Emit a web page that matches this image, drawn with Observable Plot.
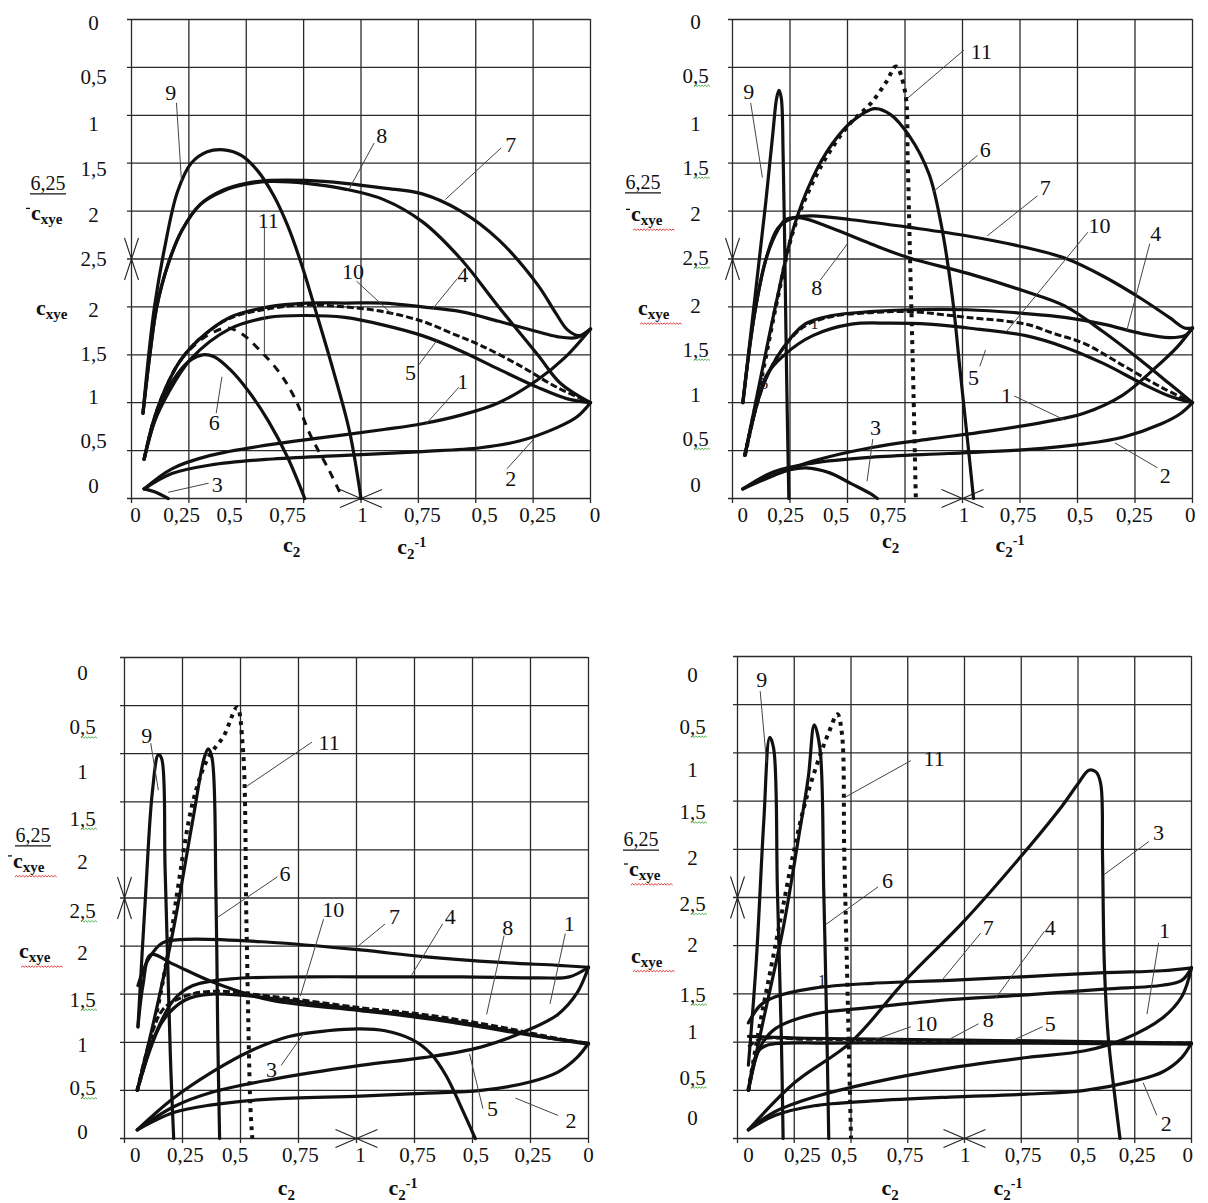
<!DOCTYPE html>
<html><head><meta charset="utf-8">
<script src="https://cdn.jsdelivr.net/npm/d3@7"></script>
<script src="https://cdn.jsdelivr.net/npm/@observablehq/plot@0.6"></script>
<style>
html,body{margin:0;padding:0;background:#fff;}
#chart{position:relative;width:1208px;height:1203px;overflow:hidden;background:#fff;}
#chart svg{position:absolute;overflow:visible;}
</style></head>
<body><div id="chart"></div>
<script>
// ---------- ticks ----------
const X_TICKS = [0, 0.25, 0.5, 0.75, 1, 1.25, 1.5, 1.75, 2];
const X_TICK_LABELS = ["0","0,25","0,5","0,75","1","0,75","0,5","0,25","0"];
const Y_TICKS = [0, 0.5, 1, 1.5, 2, 2.5, 3, 3.5, 4, 4.5, 5];
const Y_TICK_LABELS = ["0","0,5","1","1,5","2","2,5","2","1,5","1","0,5","0"];
const CURVE_NAMES = ["1","2","3","4","5","6","7","8","9","10","11"];

// ---------- panel A (top left): [u, v] ----------
const A_1 = [[0.055,0.10],[0.176,0.31],[0.344,0.45],[0.596,0.56],[0.847,0.64],[1.099,0.72],[1.267,0.78],[1.435,0.87],[1.6,1.0],[1.77,1.24],[1.888,1.47],[2,1.77]];
const A_2 = [[0.055,0.10],[0.176,0.26],[0.344,0.35],[0.596,0.41],[0.93,0.45],[1.267,0.49],[1.52,0.53],[1.69,0.6],[1.854,0.74],[1.94,0.85],[2,1.0]];
const A_3 = [[0.055,0.10],[0.1,0.07],[0.16,0]];
const A_4 = [[0.055,0.41],[0.092,0.78],[0.143,1.12],[0.21,1.43],[0.294,1.66],[0.428,1.89],[0.596,2.0],[0.763,2.04],[0.93,2.04],[1.099,2.04],[1.267,2.0],[1.435,1.95],[1.6,1.85],[1.77,1.74],[1.854,1.69],[1.94,1.68],[2,1.77]];
const A_5 = [[0.055,0.41],[0.1,0.8],[0.16,1.1],[0.26,1.46],[0.428,1.77],[0.596,1.89],[0.763,1.91],[0.93,1.89],[1.099,1.81],[1.267,1.70],[1.435,1.54],[1.6,1.35],[1.77,1.16],[1.9,1.04],[2,1.0]];
const A_6 = [[0.055,0.41],[0.12,0.95],[0.2,1.3],[0.26,1.45],[0.31,1.5],[0.36,1.48],[0.428,1.35],[0.51,1.12],[0.596,0.81],[0.68,0.43],[0.755,0]];
const A_7 = [[0.05,0.89],[0.08,1.5],[0.11,2.0],[0.16,2.45],[0.22,2.8],[0.3,3.07],[0.4,3.22],[0.5,3.29],[0.6,3.32],[0.763,3.32],[0.93,3.29],[1.1,3.24],[1.267,3.18],[1.435,3.0],[1.6,2.7],[1.77,2.23],[1.85,1.93],[1.9,1.76],[1.95,1.7],[2,1.77]];
const A_8 = [[0.05,0.89],[0.08,1.5],[0.11,2.0],[0.16,2.45],[0.22,2.8],[0.3,3.07],[0.4,3.21],[0.5,3.28],[0.6,3.31],[0.763,3.29],[0.93,3.23],[1.099,3.12],[1.267,2.89],[1.435,2.5],[1.6,2.0],[1.77,1.5],[1.87,1.2],[2,1.0]];
const A_9 = [[0.05,0.89],[0.075,1.5],[0.1,2.0],[0.143,2.6],[0.2,3.2],[0.26,3.5],[0.33,3.62],[0.403,3.64],[0.48,3.58],[0.55,3.42],[0.62,3.16],[0.68,2.85],[0.74,2.45],[0.81,1.9],[0.88,1.33],[0.95,0.7],[1.0,0]];
const A_10 = [[0.055,0.41],[0.092,0.78],[0.143,1.12],[0.21,1.43],[0.294,1.66],[0.428,1.88],[0.596,1.98],[0.763,2.02],[0.93,2.0],[1.099,1.95],[1.267,1.85],[1.4,1.72],[1.52,1.6],[1.69,1.39],[1.854,1.16],[2,1.0]];
const A_11 = [[0.055,0.41],[0.092,0.78],[0.143,1.12],[0.21,1.43],[0.294,1.64],[0.36,1.74],[0.42,1.78],[0.48,1.72],[0.562,1.54],[0.646,1.31],[0.713,1.04],[0.78,0.66],[0.864,0.28],[0.92,0]];

// ---------- panel B (top right) ----------
const B_1 = [[0.045,0.1],[0.18,0.24],[0.349,0.39],[0.6,0.53],[0.854,0.62],[1.107,0.7],[1.36,0.8],[1.528,0.89],[1.697,1.08],[1.832,1.35],[1.933,1.58],[2,1.78]];
const B_2 = [[0.045,0.1],[0.18,0.28],[0.349,0.37],[0.6,0.43],[0.938,0.47],[1.275,0.51],[1.528,0.57],[1.697,0.64],[1.865,0.78],[1.95,0.89],[2,1.0]];
const B_3 = [[0.045,0.1],[0.15,0.22],[0.25,0.3],[0.32,0.32],[0.42,0.27],[0.52,0.15],[0.6,0.05],[0.63,0]];
const B_4 = [[0.054,0.45],[0.13,1.16],[0.214,1.55],[0.315,1.82],[0.433,1.91],[0.6,1.95],[0.77,1.97],[1.023,1.97],[1.275,1.93],[1.444,1.89],[1.612,1.82],[1.781,1.72],[1.899,1.68],[1.966,1.7],[2,1.78]];
const B_5 = [[0.054,0.45],[0.147,1.28],[0.231,1.51],[0.349,1.7],[0.517,1.82],[0.686,1.83],[0.854,1.82],[1.023,1.78],[1.275,1.70],[1.444,1.58],[1.612,1.41],[1.781,1.2],[1.899,1.07],[2,1.0]];
const B_6 = [[0.054,0.45],[0.13,1.35],[0.197,2.12],[0.265,2.82],[0.349,3.35],[0.433,3.7],[0.517,3.93],[0.618,4.07],[0.686,4.01],[0.77,3.78],[0.854,3.39],[0.905,2.89],[0.955,2.12],[0.989,1.35],[1.023,0.58],[1.048,0]];
const B_7 = [[0.045,1.0],[0.096,1.93],[0.147,2.51],[0.197,2.82],[0.265,2.93],[0.349,2.95],[0.517,2.91],[0.77,2.83],[1.023,2.74],[1.275,2.62],[1.444,2.51],[1.612,2.32],[1.781,2.08],[1.899,1.89],[1.966,1.78],[2,1.78]];
const B_8 = [[0.045,1.0],[0.096,1.93],[0.147,2.51],[0.197,2.8],[0.231,2.91],[0.298,2.93],[0.433,2.82],[0.6,2.66],[0.77,2.51],[1.023,2.35],[1.275,2.16],[1.444,2.01],[1.612,1.74],[1.781,1.43],[1.899,1.2],[2,1.0]];
const B_9 = [[0.045,1.0],[0.1,2.15],[0.145,3.1],[0.175,3.8],[0.192,4.18],[0.202,4.26],[0.212,4.18],[0.22,3.6],[0.226,2.8],[0.232,1.8],[0.238,0.9],[0.245,0]];
const B_10 = [[0.054,0.45],[0.13,1.16],[0.214,1.55],[0.315,1.8],[0.433,1.9],[0.6,1.94],[0.77,1.95],[1.023,1.89],[1.275,1.82],[1.4,1.72],[1.528,1.62],[1.697,1.39],[1.865,1.16],[2,1.0]];
const B_11 = [[0.054,0.45],[0.13,1.3],[0.197,2.1],[0.265,2.8],[0.349,3.3],[0.433,3.66],[0.517,3.93],[0.6,4.12],[0.669,4.35],[0.711,4.51],[0.75,4.25],[0.762,3.5],[0.772,2.5],[0.785,1.3],[0.797,0]];

// ---------- panel C (bottom left) ----------
const C_1 = [[0.055,0.09],[0.212,0.33],[0.377,0.48],[0.626,0.61],[1.017,0.76],[1.288,0.84],[1.536,0.95],[1.752,1.14],[1.868,1.29],[1.95,1.51],[2,1.78]];
const C_2 = [[0.055,0.09],[0.212,0.27],[0.377,0.35],[0.626,0.41],[1.017,0.44],[1.288,0.47],[1.536,0.5],[1.752,0.59],[1.868,0.69],[1.95,0.84],[2,0.99]];
const C_3 = [[0.055,0.09],[0.212,0.42],[0.377,0.69],[0.543,0.91],[0.709,1.06],[0.874,1.12],[1.017,1.14],[1.123,1.12],[1.238,1.03],[1.321,0.88],[1.387,0.65],[1.454,0.31],[1.512,0]];
const C_4 = [[0.055,0.5],[0.129,1.06],[0.212,1.44],[0.295,1.59],[0.46,1.66],[0.791,1.68],[1.12,1.68],[1.454,1.68],[1.785,1.67],[1.917,1.68],[2,1.78]];
const C_5 = [[0.055,0.5],[0.162,1.21],[0.262,1.44],[0.377,1.5],[0.626,1.46],[1.017,1.34],[1.288,1.27],[1.62,1.14],[1.868,1.03],[2,0.98]];
const C_6 = [[0.055,0.5],[0.129,1.25],[0.212,2.19],[0.295,3.32],[0.344,3.96],[0.361,4.05],[0.377,3.96],[0.394,2.57],[0.402,1.06],[0.41,0]];
const C_7 = [[0.058,1.59],[0.1,1.85],[0.162,2.03],[0.262,2.07],[0.626,2.04],[1.017,1.96],[1.288,1.89],[1.62,1.83],[1.868,1.8],[2,1.78]];
const C_8 = [[0.058,1.16],[0.08,1.6],[0.113,1.91],[0.212,1.81],[0.377,1.63],[0.626,1.44],[1.017,1.33],[1.288,1.25],[1.536,1.16],[1.785,1.06],[2,0.99]];
const C_9 = [[0.058,1.16],[0.09,2.5],[0.12,3.6],[0.146,3.99],[0.16,3.95],[0.175,2.8],[0.19,1.5],[0.2,0.7],[0.212,0]];
const C_10 = [[0.055,0.5],[0.162,1.33],[0.262,1.48],[0.377,1.53],[0.626,1.48],[1.017,1.36],[1.288,1.29],[1.62,1.16],[1.868,1.04],[2,0.99]];
const C_11 = [[0.055,0.5],[0.129,1.2],[0.2,2.1],[0.228,2.57],[0.295,3.5],[0.361,3.96],[0.427,4.18],[0.485,4.48],[0.51,4.07],[0.526,2.19],[0.543,0.31],[0.551,0]];

// ---------- panel D (bottom right) ----------
const D_1 = [[0.048,0.09],[0.167,0.28],[0.338,0.43],[0.593,0.58],[0.934,0.73],[1.275,0.84],[1.531,0.91],[1.702,1.03],[1.872,1.25],[1.957,1.47],[2,1.77]];
const D_2 = [[0.048,0.09],[0.167,0.24],[0.338,0.34],[0.593,0.39],[0.934,0.43],[1.275,0.46],[1.531,0.5],[1.753,0.6],[1.872,0.69],[1.957,0.84],[2,0.99]];
const D_3 = [[0.048,0.09],[0.252,0.58],[0.5,1.0],[0.74,1.64],[1.0,2.26],[1.25,2.93],[1.43,3.45],[1.5,3.68],[1.548,3.82],[1.58,3.8],[1.6,3.68],[1.608,2.93],[1.616,1.81],[1.633,1.06],[1.659,0.5],[1.685,0]];
const D_4 = [[0.048,0.5],[0.1,0.95],[0.167,1.14],[0.338,1.29],[0.593,1.36],[0.934,1.44],[1.275,1.49],[1.616,1.55],[1.872,1.59],[1.957,1.64],[2,1.77]];
const D_5 = [[0.048,0.5],[0.09,0.9],[0.133,0.97],[0.4,0.99],[0.8,0.99],[1.2,0.99],[1.6,0.985],[2,0.98]];
const D_6 = [[0.048,0.5],[0.116,1.25],[0.201,2.18],[0.269,3.12],[0.312,3.75],[0.338,4.29],[0.363,4.05],[0.38,2.56],[0.394,1.06],[0.402,0]];
const D_7 = [[0.048,1.2],[0.1,1.38],[0.167,1.47],[0.338,1.56],[0.593,1.61],[0.934,1.64],[1.275,1.68],[1.616,1.72],[1.872,1.74],[2,1.77]];
const D_8 = [[0.048,1.06],[0.3,1.04],[0.6,1.03],[1.0,1.02],[1.4,1.01],[1.7,1.0],[2,0.99]];
const D_9 = [[0.048,0.76],[0.082,1.81],[0.116,3.3],[0.142,4.16],[0.159,4.05],[0.176,2.56],[0.193,1.06],[0.201,0]];
const D_10 = [[0.048,0.95],[0.1,1.03],[0.3,1.03],[0.7,1.02],[1.1,1.01],[1.5,1.0],[2,0.99]];
const D_11 = [[0.048,0.5],[0.1,1.2],[0.15,1.8],[0.2,2.4],[0.25,3.0],[0.3,3.5],[0.36,3.95],[0.4,4.2],[0.44,4.4],[0.46,4.2],[0.47,3.0],[0.48,2.0],[0.49,1.0],[0.5,0]];

// ---------- curve number labels: [text, u, v] and leader lines [u1, v1, u2, v2] ----------
const A_LABELS = [["9",0.171,4.23],["8",1.09,3.78],["7",1.653,3.69],["11",0.596,2.9],["10",0.965,2.37],["4",1.443,2.33],["5",1.216,1.31],["6",0.361,0.79],["1",1.443,1.22],["2",1.653,0.2],["3",0.374,0.14]];
const A_LEADERS = [[0.196,4.13,0.218,3.31],[1.057,3.71,0.948,3.23],[1.611,3.66,1.367,3.12],[0.579,2.83,0.579,1.52],[0.98,2.27,1.133,1.93],[1.418,2.29,1.309,1.97],[1.25,1.39,1.334,1.66],[0.369,0.89,0.394,1.27],[1.426,1.16,1.284,0.78],[1.636,0.31,1.753,0.62],[0.336,0.16,0.16,0.065]];
const B_LABELS = [["11",1.082,4.66],["9",0.071,4.24],["6",1.099,3.64],["7",1.36,3.24],["10",1.596,2.85],["4",1.84,2.76],["8",0.366,2.2],["5",1.048,1.26],["1",1.191,1.07],["2",1.882,0.24],["3",0.622,0.74]];
const B_LEADERS = [[1.006,4.68,0.762,4.18],[0.079,4.13,0.13,3.35],[1.065,3.58,0.871,3.2],[1.326,3.16,1.107,2.74],[1.545,2.78,1.19,1.74],[1.814,2.66,1.713,1.74],[0.382,2.28,0.5,2.66],[1.075,1.38,1.1,1.55],[1.225,1.07,1.444,0.82],[1.848,0.32,1.663,0.58],[0.61,0.62,0.585,0.18]];
const C_LABELS = [["9",0.096,4.18],["11",0.882,4.11],["6",0.692,2.75],["10",0.9,2.38],["7",1.164,2.3],["4",1.404,2.3],["8",1.652,2.19],["1",1.917,2.23],["3",0.634,0.71],["5",1.586,0.31],["2",1.925,0.18]];
const C_LEADERS = [[0.113,4.11,0.146,3.62],[0.808,4.12,0.526,3.66],[0.659,2.72,0.402,2.3],[0.858,2.28,0.758,1.48],[1.123,2.23,1.007,2.0],[1.371,2.23,1.238,1.70],[1.636,2.11,1.561,1.29],[1.9,2.13,1.834,1.40],[0.675,0.76,0.775,1.1],[1.545,0.31,1.487,0.88],[1.868,0.24,1.685,0.42]];
const D_LABELS = [["9",0.107,4.76],["11",0.866,3.94],["3",1.855,3.17],["6",0.661,2.67],["7",1.105,2.18],["4",1.378,2.18],["1",1.881,2.15],["10",0.832,1.19],["8",1.105,1.23],["5",1.378,1.19],["2",1.889,0.15]];
const D_LEADERS = [[0.1,4.64,0.128,3.9],[0.764,3.92,0.474,3.54],[1.812,3.08,1.616,2.74],[0.619,2.61,0.389,2.22],[1.071,2.13,0.9,1.64],[1.352,2.15,1.139,1.46],[1.855,2.03,1.804,1.29],[0.764,1.16,0.61,1.03],[1.062,1.19,0.934,1.03],[1.344,1.16,1.224,1.03],[1.847,0.24,1.787,0.58]];
const B_SMALL = [["5",0.138,1.2],["1",0.357,1.82]];
const D_SMALL = [["1",0.372,1.64]];

// ---------- layout ----------
const FONT = "'Liberation Serif','Times New Roman',Times,serif";
const PANELS = [
  {curves:[A_1,A_2,A_3,A_4,A_5,A_6,A_7,A_8,A_9,A_10,A_11], labels:A_LABELS, leaders:A_LEADERS, small:[],
   left:0, top:0, width:604, height:575, mL:131, mR:14, mT:19, mB:77, yDx:-38, squig:false,
   dash11:"8,7", w11:3,
   xLabelU:[0.017,0.218,0.428,0.68,1.007,1.267,1.539,1.77,2.02],
   yLabelV:[0.13,0.60,1.06,1.51,1.97,2.50,2.96,3.44,3.91,4.40,4.96],
   c2U:0.70, c2invU:1.16, cDy:54, cInvDy:56, fracDx:83, fracV:3.29, cxUpDx:100, cxUpV:2.96, cxLoDx:95, cxLoV:1.97},
  {curves:[B_1,B_2,B_3,B_4,B_5,B_6,B_7,B_8,B_9,B_10,B_11], labels:B_LABELS, leaders:B_LEADERS, small:B_SMALL,
   left:604, top:0, width:604, height:575, mL:128, mR:16, mT:19, mB:77, yDx:-37, squig:true,
   dash11:"4,5", w11:4,
   xLabelU:[0.045,0.231,0.45,0.677,1.006,1.242,1.511,1.747,1.99],
   yLabelV:[0.14,0.62,1.08,1.55,2.01,2.51,2.97,3.45,3.91,4.41,4.97],
   c2U:0.69, c2invU:1.146, cDy:50, cInvDy:54, fracDx:89, fracV:3.3, cxUpDx:101, cxUpV:2.95, cxLoDx:94, cxLoV:1.97},
  {curves:[C_1,C_2,C_3,C_4,C_5,C_6,C_7,C_8,C_9,C_10,C_11], labels:C_LABELS, leaders:C_LEADERS, small:[],
   left:0, top:620, width:604, height:583, mL:124, mR:16, mT:37, mB:65, yDx:-42, squig:true,
   dash11:"4,5", w11:4,
   xLabelU:[0.046,0.262,0.477,0.758,1.017,1.263,1.515,1.76,2.0],
   yLabelV:[0.07,0.52,0.97,1.44,1.93,2.36,2.87,3.32,3.81,4.27,4.84],
   c2U:0.70, c2invU:1.14, cDy:57, cInvDy:57, fracDx:91, fracV:3.15, cxUpDx:111, cxUpV:2.87, cxLoDx:105, cxLoV:1.93},
  {curves:[D_1,D_2,D_3,D_4,D_5,D_6,D_7,D_8,D_9,D_10,D_11], labels:D_LABELS, leaders:D_LEADERS, small:D_SMALL,
   left:604, top:620, width:604, height:583, mL:133, mR:17, mT:36, mB:65, yDx:-45, squig:true,
   dash11:"4,5", w11:4,
   xLabelU:[0.048,0.286,0.47,0.738,1.003,1.258,1.523,1.761,1.983],
   yLabelV:[0.21,0.63,1.1,1.49,2.0,2.43,2.91,3.38,3.82,4.27,4.81],
   c2U:0.675, c2invU:1.13, cDy:57, cInvDy:57, fracDx:96, fracV:3.1, cxUpDx:108, cxUpV:2.78, cxLoDx:106, cxLoV:1.88}
];

function squiggle(g, x0, x1, y, color) {
  let d = `M${x0},${y}`;
  let up = true;
  for (let x = x0 + 1.6; x <= x1; x += 1.6) { d += `L${x.toFixed(1)},${(y + (up ? -1.4 : 0)).toFixed(1)}`; up = !up; }
  g.append("path").attr("d", d).attr("fill", "none").attr("stroke", color).attr("stroke-width", 0.9);
}

function richText(g, x, y, parts, anchor) {
  const t = g.append("text").attr("x", x).attr("y", y).attr("text-anchor", anchor || "start")
    .attr("font-family", FONT).attr("fill", "#111");
  parts.forEach(p => {
    const s = t.append("tspan").text(p.t).attr("font-size", p.size);
    if (p.bold) s.attr("font-weight", "bold");
    if (p.dy) s.attr("dy", p.dy);
  });
  return t;
}

function buildPanel(p) {
  const fw = p.width - p.mL - p.mR, fh = p.height - p.mT - p.mB;
  const px = u => p.mL + u / 2 * fw;
  const py = v => p.mT + (5 - v) / 5 * fh;
  const rows = [];
  p.curves.forEach((arr, k) => arr.forEach(([u, v]) => rows.push({id: CURVE_NAMES[k], u, v})));
  const solid = rows.filter(r => r.id !== "10" && r.id !== "11");
  const r10 = rows.filter(r => r.id === "10");
  const r11 = rows.filter(r => r.id === "11");
  const xlab = X_TICK_LABELS.map((t, i) => ({t, u: p.xLabelU[i]}));
  const ylab = Y_TICK_LABELS.map((t, i) => ({t, v: p.yLabelV[i]}));
  const labels = p.labels.map(([t, u, v]) => ({t, u, v}));
  const small = p.small.map(([t, u, v]) => ({t, u, v}));
  const leaders = p.leaders.map(([u1, v1, u2, v2]) => ({u1, v1, u2, v2}));
  const cu = 7 / (fw / 2), cv = 21 / (fh / 5);
  const bu = 21 / (fw / 2), bv = 9 / (fh / 5);
  const crosses = [
    {u1: -cu, v1: 2.5 + cv, u2: cu, v2: 2.5 - cv}, {u1: -cu, v1: 2.5 - cv, u2: cu, v2: 2.5 + cv},
    {u1: 1 - bu, v1: bv, u2: 1 + bu, v2: -bv}, {u1: 1 - bu, v1: -bv, u2: 1 + bu, v2: bv}
  ];
  const tick = 5 / (fh / 5), tickx = 4 / (fw / 2);
  const svg = Plot.plot({
    width: p.width, height: p.height,
    marginLeft: p.mL, marginRight: p.mR, marginTop: p.mT, marginBottom: p.mB,
    x: {domain: [0, 2], axis: null},
    y: {domain: [0, 5], axis: null},
    style: {fontFamily: FONT, background: "transparent", color: "#111", overflow: "visible"},
    marks: [
      Plot.ruleX(X_TICKS, {x: d => d, y1: -tick, y2: 5, stroke: "#2a2a2a", strokeWidth: 1.3}),
      Plot.ruleY(Y_TICKS, {y: d => d, x1: -tickx, x2: 2, stroke: "#2a2a2a", strokeWidth: 1.3}),
      Plot.text(xlab, {x: "u", y: () => 0, text: "t", dy: 17, fontSize: 21, fill: "#111"}),
      Plot.text(ylab, {x: () => 0, y: "v", text: "t", dx: p.yDx, fontSize: 21, fill: "#111", textAnchor: "middle"}),
      Plot.link(crosses, {x1: "u1", y1: "v1", x2: "u2", y2: "v2", stroke: "#222", strokeWidth: 1.1}),
      Plot.line(solid, {x: "u", y: "v", z: "id", curve: "catmull-rom", stroke: "#111", strokeWidth: 3.2}),
      Plot.line(r10, {x: "u", y: "v", curve: "catmull-rom", stroke: "#111", strokeWidth: 3, strokeDasharray: "7,3", strokeLinecap: "butt"}),
      Plot.line(r11, {x: "u", y: "v", curve: "catmull-rom", stroke: "#111", strokeWidth: p.w11, strokeDasharray: p.dash11, strokeLinecap: "butt"}),
      Plot.link(leaders, {x1: "u1", y1: "v1", x2: "u2", y2: "v2", stroke: "#444", strokeWidth: 1}),
      Plot.text(labels, {x: "u", y: "v", text: "t", fontSize: 22, fill: "#111"}),
      Plot.text(small, {x: "u", y: "v", text: "t", fontSize: 16, fill: "#222"})
    ]
  });
  svg.style.left = p.left + "px";
  svg.style.top = p.top + "px";
  svg.style.maxWidth = "none";
  const g = d3.select(svg).append("g");
  const bottom = p.mT + fh;
  // axis titles
  richText(g, px(p.c2U), bottom + p.cDy, [{t: "c", size: 22, bold: true}, {t: "2", size: 15, bold: true, dy: 5}], "middle");
  richText(g, px(p.c2invU), bottom + p.cInvDy, [{t: "c", size: 22, bold: true}, {t: "2", size: 15, bold: true, dy: 5}, {t: "-1", size: 14, bold: true, dy: -12}], "start");
  // 6,25 / c_xye
  const fx = p.mL - p.fracDx, fy = py(p.fracV) + 7;
  g.append("text").attr("x", fx).attr("y", fy).attr("text-anchor", "middle").attr("font-family", FONT)
    .attr("font-size", 20).attr("fill", "#111").text("6,25");
  g.append("line").attr("x1", fx - 18).attr("x2", fx + 18).attr("y1", fy + 4).attr("y2", fy + 4).attr("stroke", "#111").attr("stroke-width", 1.3);
  const ux = p.mL - p.cxUpDx, uy = py(p.cxUpV) + 6;
  g.append("line").attr("x1", ux - 5).attr("x2", ux - 1).attr("y1", uy - 12).attr("y2", uy - 12).attr("stroke", "#111").attr("stroke-width", 1.3);
  richText(g, ux, uy, [{t: "c", size: 22, bold: true}, {t: "xye", size: 15, bold: true, dy: 4}], "start");
  const lx = p.mL - p.cxLoDx, ly = py(p.cxLoV) + 6;
  richText(g, lx, ly, [{t: "c", size: 22, bold: true}, {t: "xye", size: 15, bold: true, dy: 4}], "start");
  if (p.squig) {
    squiggle(g, ux + 2, ux + 44, uy + 9, "#d22");
    squiggle(g, lx + 2, lx + 44, ly + 9, "#d22");
    ylab.forEach(d => {
      if (d.t.includes(",5")) {
        const cx = p.mL + p.yDx, cy = py(d.v);
        squiggle(g, cx - 1, cx + 15, cy + 11, "#3a3");
      }
    });
  }
  return svg;
}

const chart = document.getElementById("chart");
PANELS.forEach(p => chart.appendChild(buildPanel(p)));
</script>
</body></html>
